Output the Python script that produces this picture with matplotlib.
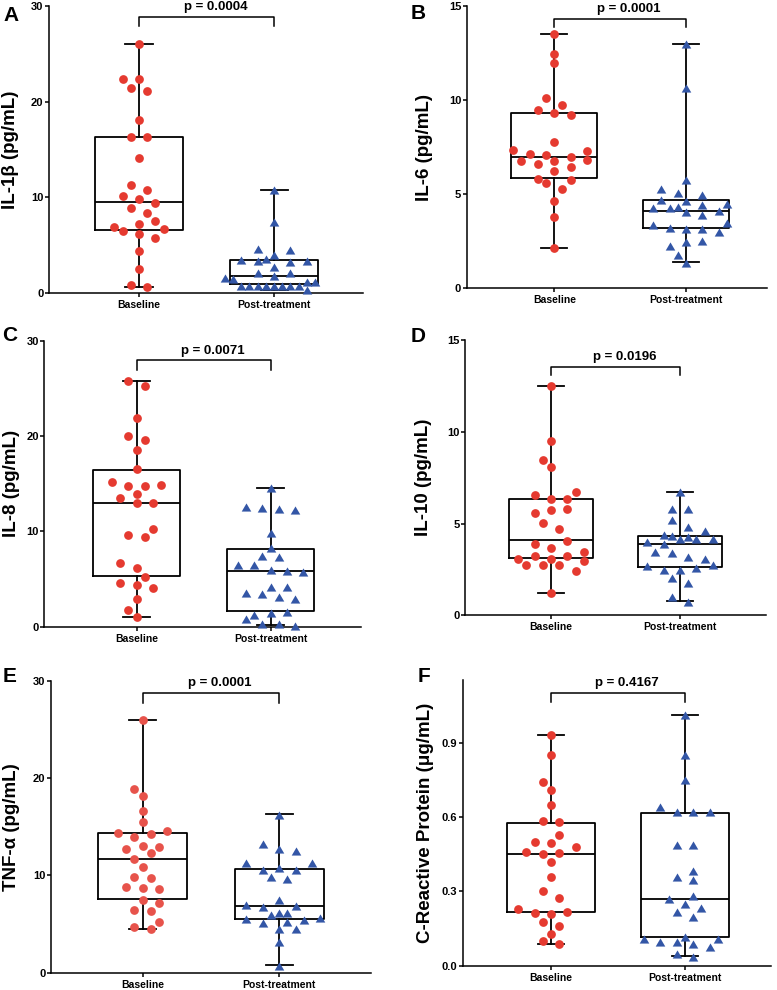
import numpy as np
import matplotlib
matplotlib.use('Agg')
import matplotlib.pyplot as plt

plt.rcParams['font.family'] = ['Liberation Sans', 'DejaVu Sans']
plt.rcParams['font.weight'] = 'bold'

groups = ['Baseline', 'Post-treatment']
letters = ['A', 'B', 'C', 'D', 'E', 'F']
ylabels = ['IL-1β (pg/mL)', 'IL-6 (pg/mL)', 'IL-8 (pg/mL)', 'IL-10 (pg/mL)',
           'TNF-α (pg/mL)', 'C-Reactive Protein (μg/mL)']
pvals = ['p = 0.0004', 'p = 0.0001', 'p = 0.0071', 'p = 0.0196', 'p = 0.0001', 'p = 0.4167']
yticks = [[0, 10, 20, 30], [0, 5, 10, 15], [0, 10, 20, 30], [0, 5, 10, 15],
          [0, 10, 20, 30], [0.0, 0.3, 0.6, 0.9]]

# values
il1b_base = [26.05, 22.36, 22.36, 21.45, 21.14, 18.07, 16.32, 16.32, 14.13, 11.27, 10.71, 10.15, 9.8, 9.42,
             8.82, 8.37, 7.5, 7.15, 6.91, 6.7, 6.45, 6.1, 5.72, 4.39, 2.51, 0.80, 0.63]
il1b_post = [10.74, 7.43, 4.46, 4.53, 3.94, 3.31, 3.31, 3.49, 3.42, 3.24, 2.72, 2.09, 2.09, 1.74, 1.50, 1.40,
             1.12, 1.12, 0.7, 0.7, 0.7, 0.7, 0.7, 0.7, 0.7, 0.7, 0.28]
il6_base = [13.53, 12.45, 11.97, 10.11, 9.76, 9.49, 9.33, 9.21, 7.77, 7.31, 7.35, 6.99, 7.07, 7.14, 6.75, 6.75,
            6.80, 6.62, 6.46, 6.25, 5.81, 5.76, 5.60, 5.29, 4.62, 3.77, 2.13]
il6_post = [13.0, 10.62, 5.76, 5.26, 5.05, 4.96, 4.69, 4.62, 4.48, 4.43, 4.30, 4.27, 4.25, 4.09, 4.06, 3.90,
            3.45, 3.38, 3.21, 3.17, 3.13, 3.01, 2.53, 2.44, 2.25, 1.75, 1.36]
il8_base = [25.73, 25.21, 21.92, 20.03, 19.62, 18.53, 16.50, 15.21, 14.79, 14.79, 14.90, 13.95, 13.46, 12.94,
            12.97, 10.21, 9.41, 9.62, 6.64, 6.12, 5.24, 4.62, 4.34, 4.02, 2.94, 1.78, 0.98]
il8_post = [14.51, 12.59, 12.41, 12.24, 12.31, 9.86, 8.22, 7.45, 7.27, 6.47, 6.47, 5.94, 5.87, 5.77, 4.20, 4.13,
            3.57, 3.39, 3.15, 2.87, 1.54, 1.40, 1.26, 0.80, 0.24, 0.24, 0.07]
il10_base = [12.47, 9.52, 8.46, 8.06, 6.72, 6.54, 6.32, 6.34, 5.77, 5.72, 5.59, 5.05, 4.68, 4.07, 3.89, 3.69,
             3.45, 3.23, 3.25, 3.09, 3.09, 2.94, 2.74, 2.74, 2.74, 2.43, 1.20]
il10_post = [6.72, 5.79, 5.79, 5.19, 4.83, 4.61, 4.36, 4.32, 4.27, 4.18, 4.16, 4.14, 3.98, 3.87, 3.38, 3.43,
             3.09, 3.20, 2.74, 2.71, 2.60, 2.45, 2.45, 2.05, 1.76, 0.98, 0.74]
tnf_base = [25.99, 18.87, 18.15, 16.64, 15.51, 14.59, 14.35, 14.21, 13.90, 13.01, 12.91, 12.67, 12.26, 11.64,
            10.86, 9.73, 9.83, 8.77, 8.66, 8.56, 7.50, 7.12, 6.44, 6.37, 5.24, 4.66, 4.49]
tnf_post = [16.23, 13.18, 12.71, 12.5, 11.23, 11.23, 10.72, 10.55, 10.55, 9.86, 9.59, 7.47, 6.95, 6.78, 6.85,
            6.10, 6.10, 5.92, 5.58, 5.48, 5.41, 5.24, 5.07, 4.45, 4.45, 3.12, 0.68]
crp_base = [0.931, 0.850, 0.740, 0.709, 0.648, 0.581, 0.584, 0.526, 0.499, 0.495, 0.480, 0.457, 0.453, 0.449,
            0.420, 0.359, 0.301, 0.274, 0.229, 0.218, 0.213, 0.209, 0.178, 0.160, 0.129, 0.098, 0.087]
crp_post = [1.010, 0.849, 0.749, 0.642, 0.620, 0.620, 0.620, 0.488, 0.488, 0.383, 0.359, 0.346, 0.283, 0.268,
            0.249, 0.231, 0.218, 0.198, 0.106, 0.114, 0.096, 0.087, 0.096, 0.106, 0.077, 0.047, 0.036]

# box statistics: min, q1, median, q3, max
il1b_box = [[0.63, 6.56, 9.45, 16.29, 26.05], [0.28, 0.87, 1.74, 3.38, 10.74]]
il6_box = [[2.13, 5.86, 6.98, 9.30, 13.53], [1.42, 3.21, 4.13, 4.69, 13.0]]
il8_box = [[0.98, 5.31, 12.97, 16.40, 25.73], [0.14, 1.68, 5.87, 8.15, 14.58]]
il10_box = [[1.20, 3.12, 4.09, 6.32, 12.47], [0.78, 2.65, 3.87, 4.32, 6.72]]
tnf_box = [[4.49, 7.57, 11.64, 14.32, 25.99], [0.75, 5.55, 6.88, 10.68, 16.30]]
crp_box = [[0.087, 0.217, 0.452, 0.577, 0.931], [0.039, 0.114, 0.270, 0.618, 1.013]]

base_vals = [il1b_base, il6_base, il8_base, il10_base, tnf_base, crp_base]
post_vals = [il1b_post, il6_post, il8_post, il10_post, tnf_post, crp_post]
boxes = [il1b_box, il6_box, il8_box, il10_box, tnf_box, crp_box]

# layout in pixels: spine x, axis right end, y of top, y of bottom, x of the two groups, ylim top
W, H = 777, 990
layout = [
    (49, 363, 6, 292.7, 139, 274, 30),
    (466.7, 766.7, 6, 288.3, 554.3, 686, 15),
    (44.3, 361, 340.7, 626.7, 136.7, 270.7, 30),
    (465, 765.7, 340, 615.3, 551, 680, 15),
    (51, 371, 680.7, 972.7, 142.7, 279.3, 30),
    (462.7, 771, 680, 965.7, 551, 685, 1.153),
]
brackets = [(28.9, 27.9), (14.33, 13.9), (27.97, 26.9), (13.55, 13.09), (28.77, 27.67), (1.102, 1.064)]
label_x = [11, 424.5, 11.5, 423.5, 11.5, 425]
letter_xy = [(3, 6), (411, 4), (2, 326), (411, 327), (3, 667), (418, 667)]
reds = ['#E53A30', '#E53A30', '#E53A30', '#E53A30', '#E7534B', '#E53A30']
blue = '#3356A6'
tri = [(-1, -0.85), (1, -0.85), (0, 0.85)]


def clash(x, y, others, row_h, unit, dot, strict):
    for ox, oy in others:
        if np.hypot(x - ox, y - oy) < dot:
            return True
        if strict and abs(y - oy) < row_h and abs(x - ox) < 2 * unit - 0.1:
            return True
    return False


def swarm_x(ax, xc, vals, unit=8.2, row_h=7.0, dot=8.8):
    # scatter layout in pixel space, points sorted by value and put in rows
    vals = np.asarray(vals, float)
    pts = ax.transData.transform(np.column_stack([np.full(len(vals), xc), vals]))
    ypx = pts[:, 1]
    px_x = ax.transData.transform((xc + 1, 0))[0] - pts[0, 0]
    off = {}
    row = []
    for i in np.argsort(ypx, kind='stable'):
        y = ypx[i]
        if row and y - ypx[row[0]] >= row_h:
            row = []
        others = [(off[j], ypx[j]) for j in off]
        left = sum(1 for ox, oy in others if ox < 0 and abs(oy - y) < 2 * dot)
        right = sum(1 for ox, oy in others if ox > 0 and abs(oy - y) < 2 * dot)
        cands = [0]
        for k in range(1, 12):
            cands += [-k, k] if left <= right else [k, -k]
        x = None
        for k in cands:
            if abs(k) <= 5 and not clash(k * unit, y, others, row_h, unit, dot, True):
                x = k * unit
                break
        if x is None:
            for k in cands:
                if not clash(k * unit, y, others, row_h, unit, unit - 0.3, False):
                    x = k * unit
                    break
        off[i] = x
        row.append(i)
        # re-centre the current row if that does not hit earlier points
        if len(row) > 1:
            m = np.mean([off[j] for j in row]) / unit
            s = -int(np.round(m))
            if s != 0:
                rest = [(off[j], ypx[j]) for j in off if j not in row]
                ok = all(not clash(off[j] + s * unit, ypx[j], rest, row_h, unit, dot, False) for j in row)
                if ok:
                    for j in row:
                        off[j] += s * unit
    return xc + np.array([off[i] for i in range(len(vals))]) / px_x


fig = plt.figure(figsize=(W / 100, H / 100), dpi=100)

for p in range(6):
    x0, x1, yt, yb, c1, c2, ytop = layout[p]
    ax = fig.add_axes([x0 / W, 1 - yb / H, (x1 - x0) / W, (yb - yt) / H])

    stats = []
    for b in boxes[p]:
        stats.append(dict(whislo=b[0], q1=b[1], med=b[2], q3=b[3], whishi=b[4], fliers=[]))
    lp = dict(color='black', linewidth=1.3)
    ax.bxp(stats, positions=[1, 2], widths=0.65, capwidths=0.2, showfliers=False, manage_ticks=False,
           boxprops=lp, medianprops=lp, whiskerprops=lp, capprops=lp, zorder=2)

    step = c2 - c1
    ax.set_xlim(1 - (c1 - x0) / step, 2 + (x1 - c2) / step)
    ax.set_ylim(0, ytop)
    for s in ['top', 'right']:
        ax.spines[s].set_visible(False)
    for s in ['left', 'bottom']:
        ax.spines[s].set_linewidth(1.1)
    ax.set_xticks([1, 2])
    ax.set_xticklabels(groups, fontsize=7.5, fontweight='bold')
    ax.set_yticks(yticks[p])
    if p == 5:
        ax.set_yticklabels(['%.1f' % t for t in yticks[p]])
    ax.tick_params(axis='y', labelsize=8, length=3, width=1.1, pad=1)
    ax.tick_params(axis='x', length=3, width=1.1, pad=2)

    xb = swarm_x(ax, 1, base_vals[p])
    xp = swarm_x(ax, 2, post_vals[p])
    ax.plot(xb, base_vals[p], 'o', ms=6.3, color=reds[p], mec='none', zorder=3, clip_on=False)
    ax.plot(xp, post_vals[p], ls='none', marker=tri, ms=6.9, color=blue, mec='none', zorder=3, clip_on=False)

    yb1, yb0 = brackets[p]
    ax.plot([1, 1, 2, 2], [yb0, yb1, yb1, yb0], color='black', lw=1.1, clip_on=False)
    ax.annotate(pvals[p], xy=(1.5, yb1), xytext=(6.5, 2.5), textcoords='offset points',
                ha='center', va='bottom', fontsize=9.5, fontweight='bold', annotation_clip=False)

    fig.text(label_x[p] / W, 1 - (yt + yb) / 2 / H, ylabels[p], rotation=90, ha='center', va='center',
             fontsize=13.5, fontweight='bold')
    lx, ly = letter_xy[p]
    fig.text(lx / W, 1 - ly / H, letters[p], ha='left', va='top', fontsize=15, fontweight='bold')

fig.savefig('out.png', dpi=100)
